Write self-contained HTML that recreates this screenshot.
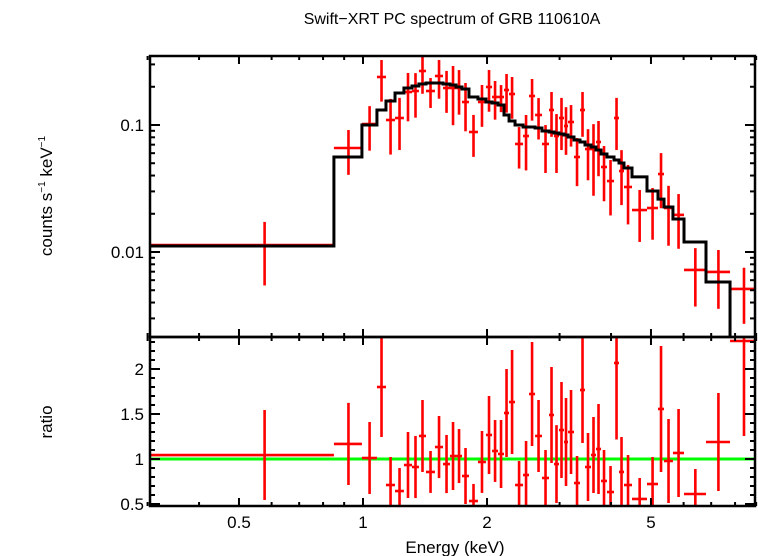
<!DOCTYPE html>
<html><head><meta charset="utf-8">
<style>
html,body{margin:0;padding:0;background:#fff;}
svg{display:block;font-family:"Liberation Sans",sans-serif;}
</style></head>
<body>
<svg id="chart" width="758" height="556" viewBox="0 0 758 556">
<text x="452" y="24" font-size="16" text-anchor="middle">Swift−XRT PC spectrum of GRB 110610A</text>
<text transform="translate(52,196) rotate(-90)" font-size="17" text-anchor="middle">counts s<tspan font-size="10" dy="-7">−1</tspan><tspan dy="7"> keV</tspan><tspan font-size="10" dy="-7">−1</tspan></text>
<text transform="translate(52,422) rotate(-90)" font-size="17" text-anchor="middle">ratio</text>
<text x="455" y="553" font-size="17" text-anchor="middle">Energy (keV)</text>
<g id="plots"></g>
</svg>
<script>
// bin edges (keV)
const binEdges=[0.304,0.850,0.994,1.081,1.137,1.196,1.257,1.315,1.367,1.422,1.495,1.564,1.626,1.682,1.739,1.808,1.901,1.988,2.057,2.127,2.199,2.262,2.339,2.446,2.529,2.616,2.719,2.828,2.908,2.990,3.075,3.145,3.252,3.363,3.458,3.576,3.677,3.782,3.910,4.067,4.182,4.300,4.497,4.890,5.200,5.378,5.653,6.014,6.800,7.778,9.04];
// count rates (counts/s/keV) and errors
const rates=[0.01135,0.0659,0.1018,0.2388,0.1095,0.1135,0.1819,0.1852,0.2662,0.1852,0.2431,0.1956,0.1956,0.1956,0.1517,0.0881,0.1517,0.1992,0.1662,0.1662,0.1886,0.1754,0.0709,0.0819,0.1692,0.1199,0.0709,0.1313,0.0819,0.1135,0.0982,0.1056,0.056,0.1313,0.0647,0.0647,0.0735,0.0467,0.0362,0.1135,0.0434,0.0325,0.0214,0.0222,0.0411,0.0222,0.0196,0.00722,0.00697,0.00512];
const rateErrs=[0.0059,0.0254,0.039,0.086,0.051,0.05,0.075,0.071,0.09,0.049,0.082,0.071,0.096,0.075,0.0625,0.032,0.055,0.072,0.056,0.04,0.0635,0.0634,0.0255,0.038,0.061,0.043,0.029,0.0506,0.04,0.05,0.04,0.038,0.023,0.0506,0.028,0.037,0.034,0.0216,0.0168,0.05,0.02,0.016,0.0094,0.0097,0.019,0.011,0.009,0.0035,0.0034,0.0024];
// model (folded) per bin
const model=[0.01115,0.056,0.1,0.1313,0.1545,0.1786,0.1956,0.2028,0.2103,0.2142,0.2142,0.2103,0.2065,0.1992,0.1921,0.1662,0.1602,0.1517,0.149,0.1437,0.1199,0.1075,0.1,0.0964,0.0964,0.0947,0.0897,0.0881,0.0865,0.085,0.0834,0.0805,0.0762,0.0735,0.0696,0.0671,0.0636,0.0591,0.056,0.053,0.0502,0.0459,0.039,0.0302,0.0261,0.0226,0.0182,0.012,0.0058,0.0015];
// ratio data/model
const ratios=[1.044,1.167,1.011,1.8,0.711,0.644,0.933,0.911,1.256,0.856,1.133,0.944,1.033,1.033,0.811,0.533,0.967,1.267,1.089,1.056,1.511,1.633,0.711,0.822,1.722,1.256,0.789,1.489,0.944,1.322,1.189,1.3,0.733,1.767,0.911,1.044,1.111,0.756,0.633,2.067,0.856,0.711,0.556,0.722,1.556,0.978,1.067,0.611,1.189,2.311];
const ratioErrs=[0.5,0.456,0.4,0.556,0.311,0.256,0.367,0.345,0.4,0.233,0.345,0.323,0.378,0.3,0.311,0.19,0.344,0.433,0.344,0.378,0.489,0.578,0.267,0.378,0.578,0.4,0.311,0.533,0.433,0.533,0.489,0.467,0.3,0.589,0.378,0.422,0.5,0.344,0.289,0.85,0.389,0.333,0.233,0.3,0.7,0.467,0.489,0.278,0.544,1.056];
const xMajorTicks=[0.5,1,2,5];
const xMinorTicks=[0.3,0.4,0.6,0.7,0.8,0.9,3,4,6,7,8,9];
const topMajorTicks=[0.01,0.1];
const topTickLabels=["0.01","0.1"];
const ratioMajorTicks=[0.5,1,1.5,2];
const ratioTickLabels=["0.5","1","1.5","2"];

const L=150,R=755,T=56,MID=337,B=506;
const NS="http://www.w3.org/2000/svg";
const g=document.getElementById('plots');
function X(e){return 363+412*Math.log10(e);}
function YT(v){return 125-127*(Math.log10(v)+1);}
function YR(r){return 459-90*(r-1);}
function mk(tag,attrs,parent){const el=document.createElementNS(NS,tag);for(const k in attrs)el.setAttribute(k,attrs[k]);(parent||g).appendChild(el);return el;}

const defs=mk('defs',{});
const c1=mk('clipPath',{id:'clipTop'},defs);mk('rect',{x:L,y:T,width:R-L,height:MID-T},c1);
const c2=mk('clipPath',{id:'clipBot'},defs);mk('rect',{x:L,y:MID,width:R-L,height:B-MID},c2);

const gTop=mk('g',{'clip-path':'url(#clipTop)'});


const gBot=mk('g',{'clip-path':'url(#clipBot)'});



const gl=mk('line',{x1:L,x2:R,y1:YR(1),y2:YR(1),stroke:'#00ff00','stroke-width':3},gBot);



for(let i=0;i<rates.length;i++){
  const lo=binEdges[i],hi=binEdges[i+1],c=(lo+hi)/2;
  const x1=X(lo),x2=X(hi),xc=X(c);
  const p=mk('g',{stroke:'#ff0000','stroke-width':2.6},gTop);
  
  
  mk('line',{x1:x1,x2:x2,y1:YT(rates[i]),y2:YT(rates[i])},p);
  const lw=Math.max(rates[i]-rateErrs[i],1e-4);
  mk('line',{x1:xc,x2:xc,y1:YT(rates[i]+rateErrs[i]),y2:YT(lw)},p);
  const q=mk('g',{stroke:'#ff0000','stroke-width':2.6},gBot);
  
  
  mk('line',{x1:x1,x2:x2,y1:YR(ratios[i]),y2:YR(ratios[i])},q);
  mk('line',{x1:xc,x2:xc,y1:YR(ratios[i]+ratioErrs[i]),y2:YR(ratios[i]-ratioErrs[i])},q);
}
let d='';
for(let i=0;i<model.length;i++){
  const y=YT(model[i]);
  d+=(i===0?'M':'L')+X(binEdges[i])+','+y+' L'+X(binEdges[i+1])+','+y+' ';
}
const mp=mk('path',{d:d,fill:'none',stroke:'#000','stroke-width':3},gTop);



const f1=mk('rect',{x:L,y:T,width:R-L,height:MID-T,fill:'none',stroke:'#000','stroke-width':2.5});


const f2=mk('rect',{x:L,y:MID,width:R-L,height:B-MID,fill:'none',stroke:'#000','stroke-width':2.5});



const ticks=mk('g',{stroke:'#000','stroke-width':2});


function xt(e,len){const x=X(e);
  [[T,1],[MID,-1],[MID,1],[B,-1]].forEach(([y,s])=>mk('line',{x1:x,x2:x,y1:y,y2:y+s*len},ticks));}
xMajorTicks.forEach(e=>xt(e,8));
xMinorTicks.forEach(e=>xt(e,4));
function yt(y,len){mk('line',{x1:L,x2:L+len,y1:y,y2:y},ticks);mk('line',{x1:R,x2:R-len,y1:y,y2:y},ticks);}
for(let dec=-3;dec<0;dec++){for(let m=1;m<10;m++){const v=m*Math.pow(10,dec);const y=YT(v);if(y>T&&y<MID)yt(y,m===1?10:5);}}
for(let r=0.5;r<2.4;r+=0.1){const y=YR(r);if(y>=MID&&y<=B)yt(y,Math.abs(r*2-Math.round(r*2))<1e-6?10:5);}

xMajorTicks.forEach(e=>{const t=mk('text',{x:X(e),y:528,'font-size':17,'text-anchor':'middle'});t.textContent=String(e);
  
  });
topMajorTicks.forEach((v,i)=>{const t=mk('text',{x:144,y:YT(v)+6,'font-size':17,'text-anchor':'end'});t.textContent=topTickLabels[i];
  
  });
ratioMajorTicks.forEach((v,i)=>{const t=mk('text',{x:144,y:YR(v)+6,'font-size':17,'text-anchor':'end'});t.textContent=ratioTickLabels[i];
  
  });
</script>
</body></html>
